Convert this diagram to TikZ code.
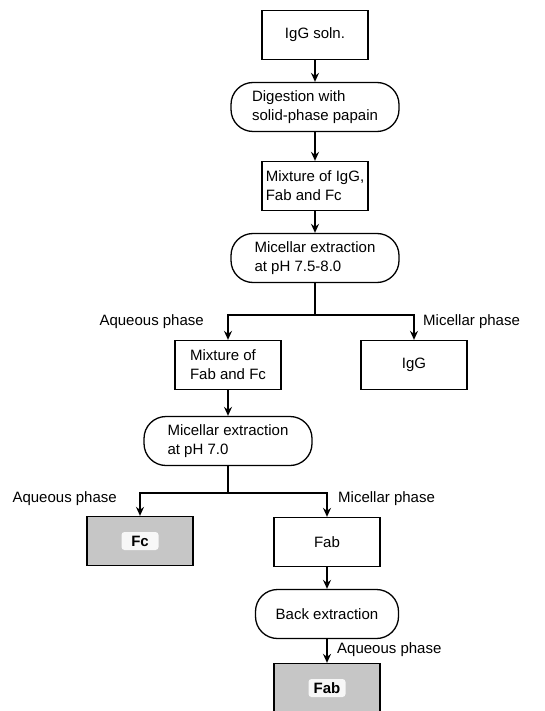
\documentclass[tikz,border=0pt]{standalone}
\usepackage{fontspec}
\setmainfont{Liberation Sans}
\usetikzlibrary{arrows.meta}
\begin{document}
\begin{tikzpicture}
    [x=1pt,y=-1pt,font=\fontsize{15}{19}\selectfont,
     box/.style={draw,line width=1.3pt,rectangle,minimum width=106pt,minimum height=49pt,align=left,inner sep=2pt},
     pill/.style={draw,line width=1.3pt,rectangle,rounded corners=22pt,minimum width=168pt,minimum height=49pt,align=left,inner sep=2pt},
     shaded/.style={box,fill=gray!45},
     tag/.style={fill=gray!6,rounded corners=3pt,inner sep=1pt,minimum width=37pt,minimum height=18pt,font=\fontsize{15}{19}\selectfont\bfseries},
     phase/.style={inner sep=0pt},
     line/.style={line width=1.3pt},
     arrow/.style={line,-{Stealth[length=9pt,width=8pt,inset=3pt]}}]
    \useasboundingbox (0,0) rectangle (544,711);
    \clip (0,0) rectangle (544,711);
    \node[box] (soln) at (315,35) {IgG soln.};
    \node[pill] (digest) at (315,107) {Digestion with\\solid-phase papain};
    \node[box] (mix) at (315,186) {Mixture of IgG,\\Fab and Fc};
    \node[pill] (ext1) at (315,258) {Micellar extraction\\at pH 7.5-8.0};
    \coordinate (split1) at (315,315);
    \node[box] (mixfab) at (228,365) {Mixture of\\Fab and Fc};
    \node[box] (igg) at (414,365) {IgG};
    \node[pill] (ext2) at (228,441) {Micellar extraction\\at pH 7.0};
    \coordinate (split2) at (228,493);
    \node[shaded] (fc) at (140,541) {};
    \node[tag] (fctag) at (fc) {Fc};
    \node[box] (fab) at (327,542) {Fab};
    \node[pill,minimum width=143pt] (back) at (327,614) {Back extraction};
    \node[shaded] (fabout) at (327,688) {};
    \node[tag] (fabtag) at (fabout) {Fab};
    % phase labels
    \node[phase,anchor=east] (aq1) at (204,322) {Aqueous phase};
    \node[phase,anchor=west] (mic1) at (423,322) {Micellar phase};
    \node[phase,anchor=east] (aq2) at (117,499) {Aqueous phase};
    \node[phase,anchor=west] (mic2) at (338,499) {Micellar phase};
    \node[phase,anchor=west] (aq3) at (337,650) {Aqueous phase};
    % connectors
    \draw[arrow] (soln) -- (digest);
    \draw[arrow] (digest) -- (mix);
    \draw[arrow] (mix) -- (ext1);
    \draw[line] (ext1) -- (split1);
    \draw[arrow] (split1) -| (mixfab);
    \draw[arrow] (split1) -| (igg);
    \draw[arrow] (mixfab) -- (ext2);
    \draw[line] (ext2) -- (split2);
    \draw[arrow] (split2) -| (fc);
    \draw[arrow] (split2) -| (fab);
    \draw[arrow] (fab) -- (back);
    \draw[arrow] (back) -- (fabout);
\end{tikzpicture}
\end{document}
